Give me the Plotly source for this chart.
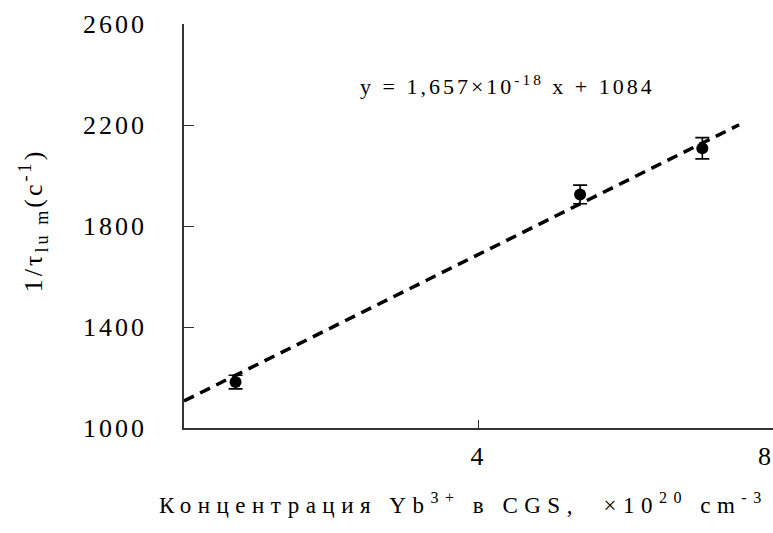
import plotly.graph_objects as go

# Data
conc = [0.70, 5.38, 7.04]          # Yb3+ concentration, x10^20 cm^-3
rate = [1182, 1925, 2108]          # 1/tau_lum, c^-1
rate_err = [27, 37, 42]

fit_conc = [0.0, 7.54]
fit_rate = [1107, 2201]

y_ticks = [1000, 1400, 1800, 2200, 2600]
y_ticktext = ["1000", "1400", "1800", "2200", "2600"]
x_ticks = [4]
x_ticktext = ["4"]
x_edge_tick = 8

x_title = "Концентрация Yb<sup>3+</sup> в CGS,  ×10<sup>20</sup> cm<sup>-3</sup>"
y_title = "1/τ<sub>lu m</sub>(c<sup>-1</sup>)"
eq_text = "y = 1,657×10<sup>-18</sup> x + 1084"

SERIF = "Liberation Serif, Times New Roman, serif"

fig = go.Figure()

fig.add_trace(go.Scatter(
    x=fit_conc, y=fit_rate, mode="lines",
    line=dict(color="black", width=3.5, dash="11px,7px"),
    showlegend=False, hoverinfo="skip",
))

fig.add_trace(go.Scatter(
    x=conc, y=rate, mode="markers",
    marker=dict(color="black", size=12),
    error_y=dict(type="data", array=rate_err, visible=True,
                 color="black", thickness=1.6, width=7),
    showlegend=False,
))

fig.update_layout(
    width=773, height=533,
    margin=dict(l=184, r=0, t=24, b=105),
    paper_bgcolor="white", plot_bgcolor="white",
    font=dict(family=SERIF, color="black"),
    xaxis=dict(
        range=[0, 8], tickvals=x_ticks, ticktext=x_ticktext,
        ticks="inside", ticklen=8, tickwidth=1.3, tickcolor="#333",
        showline=True, linecolor="#333", linewidth=1.5,
        showgrid=False, zeroline=False, mirror=False,
        tickfont=dict(size=26, family=SERIF, color="black"),
        ticklabelstandoff=4,
    ),
    yaxis=dict(
        range=[1000, 2600], tickvals=y_ticks, ticktext=y_ticktext,
        ticks="inside", ticklen=10, tickwidth=1.3, tickcolor="#333",
        showline=True, linecolor="#333", linewidth=1.5,
        showgrid=False, zeroline=False, mirror=False,
        tickfont=dict(size=26, family=SERIF, color="black"),
        ticklabelstandoff=30,
    ),
    annotations=[
        dict(text=x_title, xref="paper", yref="paper", x=0.474, y=-0.186,
             xanchor="center", yanchor="middle", showarrow=False,
             font=dict(size=23, family=SERIF, color="black")),
        dict(text=y_title, xref="paper", yref="paper", x=-0.256, y=0.515,
             xanchor="center", yanchor="middle", showarrow=False, textangle=-90,
             font=dict(size=26, family=SERIF, color="black")),
        dict(text=eq_text, xref="paper", yref="paper", x=0.550, y=0.849,
             xanchor="center", yanchor="middle", showarrow=False,
             font=dict(size=22, family=SERIF, color="black")),
        dict(text=str(x_edge_tick), xref="x", yref="paper", x=x_edge_tick, y=0,
             xanchor="right", yanchor="top", yshift=-12, showarrow=False,
             font=dict(size=26, family=SERIF, color="black")),
    ],
)

post_js = """
var gd = document.getElementById('{plot_id}');
function sp(sel, v){ gd.querySelectorAll(sel).forEach(function(t){ t.style.letterSpacing = v; }); }
sp('.ytick text', '3px');
sp('.xtick text', '3px');
var anns = gd.querySelectorAll('.annotation');
var spacing = ['6.5px', '3px', '3px', '0px'];
anns.forEach(function(a){
  var i = parseInt(a.getAttribute('data-index'));
  a.querySelectorAll('text').forEach(function(t){ t.style.letterSpacing = spacing[i]; });
});
"""

fig.write_html("out.html", post_script=post_js)
